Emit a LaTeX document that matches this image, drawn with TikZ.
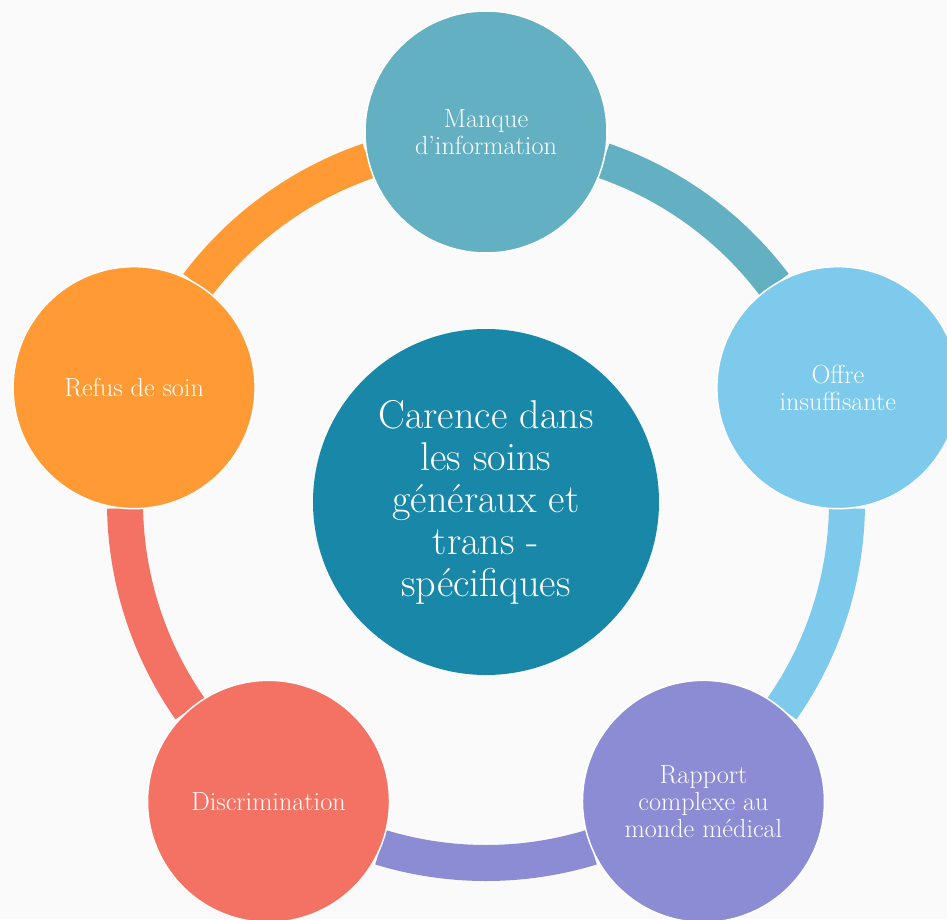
\documentclass[tikz,border=0pt]{standalone}
\definecolor{fond}{HTML}{FAFAFA}
\definecolor{canard}{HTML}{1887A8}
\definecolor{sarcelle}{HTML}{64B0C3}
\definecolor{ciel}{HTML}{7DCAEC}
\definecolor{lavande}{HTML}{8B8CD3}
\definecolor{saumon}{HTML}{F47264}
\definecolor{mandarine}{HTML}{FF9A34}
\tikzset{
    %Define style for the outer circles
    bulle/.style={
           circle,
           fill=#1,
           draw=white,
           line width=1.5pt,
           minimum size=242pt,
           inner sep=0pt,
           text=white,
           align=center,
           font=\fontsize{26.2}{27}\selectfont},
    %Define style for the middle circle
    coeur/.style={
           circle,
           fill=canard,
           minimum size=346pt,
           inner sep=0pt,
           text=white,
           align=center,
           font=\fontsize{40.2}{42}\selectfont},
    % Define ring segment style
    anneau/.style={
           draw=#1,
           line width=36pt,
           line cap=butt}
}
\begin{document}
\begin{tikzpicture}[x=1pt,y=1pt]
  \fill[fond] (-486,-417) rectangle (461,502);
  \useasboundingbox (-486,-417) rectangle (461,502);
  % ring segments, each in the colour of the circle it leaves
  \foreach \a/\c [count=\i] in {90/sarcelle,18/ciel,-54/lavande,-126/saumon,162/mandarine}
    \draw[anneau=\c] ({\a-19}:361) coordinate (s\i)
      arc[start angle=\a-19, delta angle=-34, radius=361];
  \node[coeur] (carence) at (0,0)
    {Carence dans\\les soins\\généraux et\\trans -\\spécifiques};
  \node[bulle=sarcelle] (manque) at (90:370) {Manque\\d’information};
  \node[bulle=ciel] (offre) at (18:370) {Offre\\insuffisante};
  \node[bulle=lavande] (rapport) at (-54:370) {Rapport\\complexe au\\monde médical};
  \node[bulle=saumon] (discri) at (-126:370) {Discrimination};
  \node[bulle=mandarine] (refus) at (162:370) {Refus de soin};
\end{tikzpicture}
\end{document}
